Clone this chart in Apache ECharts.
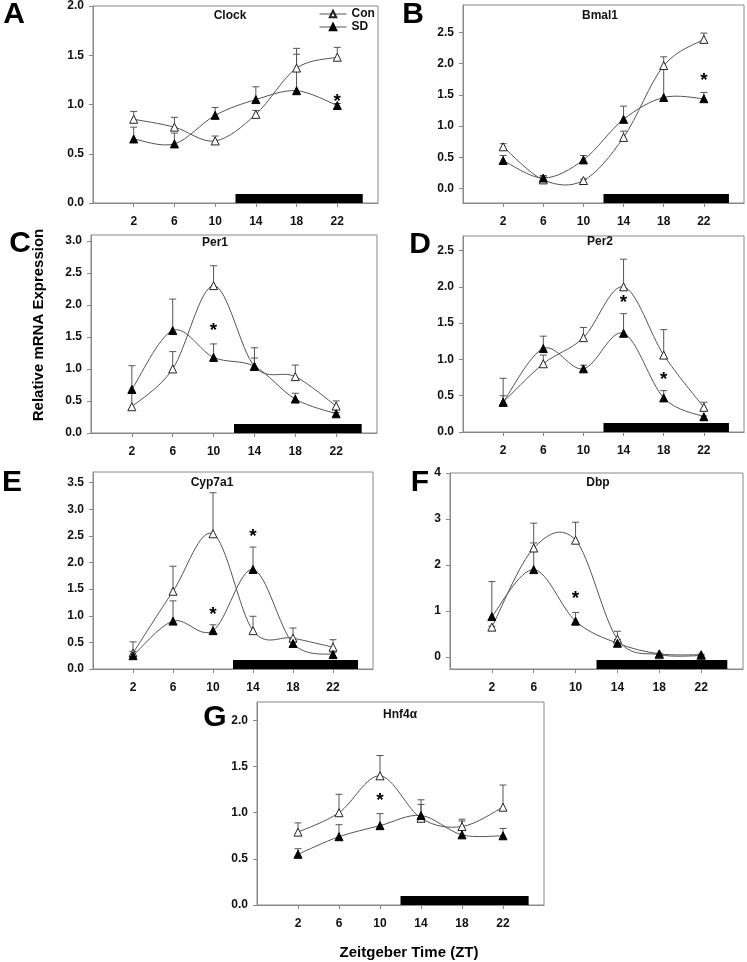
<!DOCTYPE html>
<html>
<head>
<meta charset="utf-8">
<script src="https://cdn.jsdelivr.net/npm/echarts@6/dist/echarts.min.js"></script>
<style>
  html, body { margin: 0; padding: 0; background: #fff; }
  #chart { width: 747px; height: 962px; }
</style>
</head>
<body>
<div id="chart"></div>
<script>
// ZT sampling points and the dark phase (black bar)
const zt = [2, 6, 10, 14, 18, 22];
const darkPhase = [12, 24.5];

// A - Clock
const clockCon = [0.85, 0.77, 0.63, 0.90, 1.37, 1.48];
const clockConSem = [0.08, 0.10, 0.05, 0.04, 0.20, 0.10];
const clockSd = [0.65, 0.60, 0.89, 1.05, 1.14, 0.99];
const clockSdSem = [0.12, 0.11, 0.08, 0.13, 0.37, 0.02];
const clockStars = [[22, 1.07]];
const clockTicks = [0, 0.5, 1.0, 1.5, 2.0];

// B - Bmal1
const bmalCon = [0.67, 0.14, 0.13, 0.82, 1.97, 2.39];
const bmalConSem = [0.05, 0.05, 0.02, 0.10, 0.14, 0.10];
const bmalSd = [0.45, 0.17, 0.46, 1.11, 1.46, 1.44];
const bmalSdSem = [0.08, 0.04, 0.07, 0.21, 0.45, 0.10];
const bmalStars = [[22, 1.79]];
const bmalTicks = [0, 0.5, 1.0, 1.5, 2.0, 2.5];

// C - Per1
const per1Con = [0.41, 1.00, 2.30, 1.04, 0.88, 0.42];
const per1ConSem = [0.21, 0.27, 0.31, 0.13, 0.18, 0.08];
const per1Sd = [0.68, 1.60, 1.18, 1.04, 0.53, 0.30];
const per1SdSem = [0.37, 0.49, 0.21, 0.29, 0.09, 0.02];
const per1Stars = [[10, 1.66]];
const per1Ticks = [0, 0.5, 1.0, 1.5, 2.0, 2.5, 3.0];

// D - Per2
const per2Con = [0.41, 0.94, 1.30, 2.00, 1.06, 0.34];
const per2ConSem = [0.09, 0.12, 0.14, 0.38, 0.35, 0.07];
const per2Sd = [0.41, 1.15, 0.87, 1.36, 0.47, 0.21];
const per2SdSem = [0.33, 0.17, 0.05, 0.27, 0.10, 0.01];
const per2Stars = [[14, 1.84], [18, 0.78]];
const per2Ticks = [0, 0.5, 1.0, 1.5, 2.0, 2.5];

// E - Cyp7a1
const cypCon = [0.30, 1.46, 2.54, 0.72, 0.58, 0.41];
const cypConSem = [0.21, 0.47, 0.77, 0.27, 0.19, 0.14];
const cypSd = [0.25, 0.90, 0.72, 1.87, 0.48, 0.27];
const cypSdSem = [0.08, 0.38, 0.11, 0.42, 0.02, 0.04];
const cypStars = [[10, 1.10], [14, 2.56]];
const cypTicks = [0, 0.5, 1.0, 1.5, 2.0, 2.5, 3.0, 3.5];

// F - Dbp
const dbpCon = [0.65, 2.37, 2.54, 0.39, 0.05, 0.03];
const dbpConSem = [0.02, 0.54, 0.39, 0.17, 0.01, 0.01];
const dbpSd = [0.88, 1.90, 0.78, 0.30, 0.07, 0.05];
const dbpSdSem = [0.76, 0.58, 0.19, 0.08, 0.01, 0.01];
const dbpStars = [[10, 1.36]];
const dbpTicks = [0, 1, 2, 3, 4];

// G - Hnf4a
const hnfCon = [0.79, 1.00, 1.40, 0.94, 0.85, 1.06];
const hnfConSem = [0.10, 0.20, 0.22, 0.15, 0.08, 0.24];
const hnfSd = [0.55, 0.74, 0.86, 0.97, 0.76, 0.75];
const hnfSdSem = [0.06, 0.13, 0.13, 0.17, 0.15, 0.08];
const hnfStars = [[10, 1.17]];
const hnfTicks = [0, 0.5, 1.0, 1.5, 2.0];

const FONT = '"Liberation Sans", Arial, Helvetica, sans-serif';

const panels = [
  { letter: 'A', title: 'Clock', con: clockCon, conSem: clockConSem, sd: clockSd, sdSem: clockSdSem,
    stars: clockStars, ticks: clockTicks, yMin: 0, yMax: 2.0, dec: 1,
    grid: { left: 93, top: 5, width: 285, height: 198 }, letterAt: [14, 15], titleAt: [230, 16] },
  { letter: 'B', title: 'Bmal1', con: bmalCon, conSem: bmalConSem, sd: bmalSd, sdSem: bmalSdSem,
    stars: bmalStars, ticks: bmalTicks, yMin: -0.23, yMax: 2.94, dec: 1,
    grid: { left: 463, top: 5, width: 281, height: 198 }, letterAt: [413, 15], titleAt: [600, 16] },
  { letter: 'C', title: 'Per1', con: per1Con, conSem: per1ConSem, sd: per1Sd, sdSem: per1SdSem,
    stars: per1Stars, ticks: per1Ticks, yMin: 0, yMax: 3.09, dec: 1,
    grid: { left: 91, top: 235, width: 286, height: 198 }, letterAt: [20, 244], titleAt: [215, 243] },
  { letter: 'D', title: 'Per2', con: per2Con, conSem: per2ConSem, sd: per2Sd, sdSem: per2SdSem,
    stars: per2Stars, ticks: per2Ticks, yMin: 0, yMax: 2.7, dec: 1,
    grid: { left: 463, top: 236, width: 281, height: 196 }, letterAt: [420, 245], titleAt: [600, 242] },
  { letter: 'E', title: 'Cyp7a1', con: cypCon, conSem: cypConSem, sd: cypSd, sdSem: cypSdSem,
    stars: cypStars, ticks: cypTicks, yMin: 0, yMax: 3.7, dec: 1,
    grid: { left: 93, top: 472, width: 280, height: 197 }, letterAt: [12, 483], titleAt: [212, 483] },
  { letter: 'F', title: 'Dbp', con: dbpCon, conSem: dbpConSem, sd: dbpSd, sdSem: dbpSdSem,
    stars: dbpStars, ticks: dbpTicks, yMin: -0.26, yMax: 4.0, dec: 0,
    grid: { left: 450, top: 473, width: 293, height: 196 }, letterAt: [420, 483], titleAt: [598, 483] },
  { letter: 'G', title: 'Hnf4\u03b1', con: hnfCon, conSem: hnfConSem, sd: hnfSd, sdSem: hnfSdSem,
    stars: hnfStars, ticks: hnfTicks, yMin: 0, yMax: 2.2, dec: 1,
    grid: { left: 257, top: 702, width: 287, height: 203 }, letterAt: [215, 718], titleAt: [400, 715] }
];

function errBars(params, api) {
  const x = api.value(0), y = api.value(1), e = api.value(2);
  const p0 = api.coord([x, y]);
  const p1 = api.coord([x, y + e]);
  const st = { stroke: '#555', lineWidth: 1 };
  return {
    type: 'group',
    children: [
      { type: 'line', shape: { x1: p0[0], y1: p0[1], x2: p1[0], y2: p1[1] }, style: st },
      { type: 'line', shape: { x1: p1[0] - 3.5, y1: p1[1], x2: p1[0] + 3.5, y2: p1[1] }, style: st }
    ]
  };
}

// cardinal spline through the points (SigmaPlot style smoothing, allows overshoot)
function spline(vals) {
  return function (params, api) {
    const n = vals.length, k = params.dataIndex;
    if (k >= n - 1) return null;
    const pt = j => api.coord([zt[Math.max(0, Math.min(n - 1, j))], vals[Math.max(0, Math.min(n - 1, j))]]);
    const p0 = pt(k - 1), p1 = pt(k), p2 = pt(k + 1), p3 = pt(k + 2);
    return {
      type: 'bezierCurve',
      shape: {
        x1: p1[0], y1: p1[1], x2: p2[0], y2: p2[1],
        cpx1: p1[0] + (p2[0] - p0[0]) / 6, cpy1: p1[1] + (p2[1] - p0[1]) / 6,
        cpx2: p2[0] - (p3[0] - p1[0]) / 6, cpy2: p2[1] - (p3[1] - p1[1]) / 6
      },
      style: { stroke: '#555', lineWidth: 1, fill: null }
    };
  };
}

function darkBar(params, api) {
  const a = api.coord([api.value(0), 0]);
  const b = api.coord([api.value(1), 0]);
  const cs = params.coordSys;
  const bottom = cs.y + cs.height;
  return {
    type: 'rect',
    shape: { x: a[0], y: bottom - 9, width: b[0] - a[0], height: 9 },
    style: { fill: '#000' }
  };
}

function starMark(params, api) {
  const p = api.coord([api.value(0), api.value(1)]);
  return {
    type: 'text',
    x: p[0], y: p[1] + 4,
    style: { text: '*', font: 'bold 19px ' + FONT, fill: '#000', align: 'center', verticalAlign: 'middle' }
  };
}

const grids = [], xAxes = [], yAxes = [], series = [], graphics = [];

panels.forEach((p, i) => {
  grids.push(Object.assign({ show: true, borderColor: '#888', borderWidth: 1, containLabel: false }, p.grid));
  xAxes.push({
    type: 'value', gridIndex: i, min: -2, max: 26,
    axisLine: { show: true, onZero: false, lineStyle: { color: '#888' } },
    axisTick: { show: true, inside: false, length: 4, customValues: zt, lineStyle: { color: '#888' } },
    axisLabel: { customValues: zt, margin: 13, color: '#111', fontWeight: 'bold', fontSize: 12, fontFamily: FONT },
    splitLine: { show: false }
  });
  yAxes.push({
    type: 'value', gridIndex: i, min: p.yMin, max: p.yMax,
    axisLine: { show: true, onZero: false, lineStyle: { color: '#888' } },
    axisTick: { show: true, inside: false, length: 4, customValues: p.ticks, lineStyle: { color: '#888' } },
    axisLabel: {
      customValues: p.ticks, margin: 9, color: '#111', fontWeight: 'bold', fontSize: 12, fontFamily: FONT,
      formatter: v => Number(v).toFixed(p.dec)
    },
    splitLine: { show: false }
  });

  series.push({
    type: 'custom', xAxisIndex: i, yAxisIndex: i, renderItem: darkBar, z: 1, silent: true,
    data: [darkPhase]
  });
  series.push({
    type: 'custom', xAxisIndex: i, yAxisIndex: i, renderItem: errBars, z: 1, silent: true,
    data: zt.map((t, k) => [t, p.con[k], p.conSem[k]])
  });
  series.push({
    type: 'custom', xAxisIndex: i, yAxisIndex: i, renderItem: errBars, z: 1, silent: true,
    data: zt.map((t, k) => [t, p.sd[k], p.sdSem[k]])
  });
  series.push({
    type: 'custom', xAxisIndex: i, yAxisIndex: i, renderItem: spline(p.con), z: 2, silent: true,
    data: zt.map((t, k) => [t, p.con[k]])
  });
  series.push({
    type: 'custom', xAxisIndex: i, yAxisIndex: i, renderItem: spline(p.sd), z: 2, silent: true,
    data: zt.map((t, k) => [t, p.sd[k]])
  });
  series.push({
    name: 'Con', type: 'line', xAxisIndex: i, yAxisIndex: i,
    symbol: 'triangle', symbolSize: 8, showAllSymbol: true, z: 3,
    lineStyle: { color: '#555', width: 1, opacity: 0 },
    itemStyle: { color: '#fff', borderColor: '#222', borderWidth: 1 },
    data: zt.map((t, k) => [t, p.con[k]])
  });
  series.push({
    name: 'SD', type: 'line', xAxisIndex: i, yAxisIndex: i,
    symbol: 'triangle', symbolSize: 8, showAllSymbol: true, z: 4,
    lineStyle: { color: '#555', width: 1, opacity: 0 },
    itemStyle: { color: '#000', borderColor: '#000', borderWidth: 1 },
    data: zt.map((t, k) => [t, p.sd[k]])
  });
  series.push({
    type: 'custom', xAxisIndex: i, yAxisIndex: i, renderItem: starMark, z: 5, silent: true,
    data: p.stars
  });

  graphics.push({
    type: 'text', x: p.letterAt[0], y: p.letterAt[1],
    style: { text: p.letter, font: 'bold 30px ' + FONT, fill: '#000', align: 'center', verticalAlign: 'middle' }
  });
  graphics.push({
    type: 'text', x: p.titleAt[0], y: p.titleAt[1],
    style: { text: p.title, font: 'bold 12px ' + FONT, fill: '#111', align: 'center', verticalAlign: 'middle' }
  });
});

graphics.push({
  type: 'text', x: 39, y: 325, rotation: Math.PI / 2,
  style: { text: 'Relative mRNA Expression', font: 'bold 15px ' + FONT, fill: '#000', align: 'center', verticalAlign: 'middle' }
});
graphics.push({
  type: 'text', x: 409, y: 953,
  style: { text: 'Zeitgeber Time (ZT)', font: 'bold 15px ' + FONT, fill: '#000', align: 'center', verticalAlign: 'middle' }
});

const chart = echarts.init(document.getElementById('chart'), null, { renderer: 'canvas' });
chart.setOption({
  animation: false,
  backgroundColor: '#fff',
  legend: {
    data: ['Con', 'SD'], orient: 'vertical', left: 319, top: 8, padding: 0,
    itemWidth: 27, itemHeight: 8, itemGap: 1,
    lineStyle: { color: '#555', width: 1, opacity: 1 },
    textStyle: { fontWeight: 'bold', fontSize: 12, color: '#111', fontFamily: FONT },
    selectedMode: false
  },
  grid: grids,
  xAxis: xAxes,
  yAxis: yAxes,
  series: series,
  graphic: graphics
});
</script>
</body>
</html>
